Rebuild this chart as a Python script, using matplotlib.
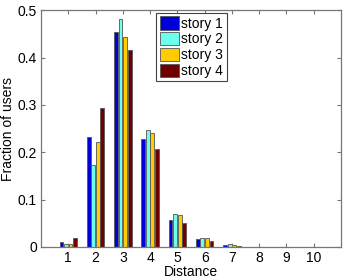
import matplotlib
matplotlib.use("Agg")
import matplotlib.pyplot as plt
import numpy as np

plt.rcParams["font.family"] = ["Liberation Sans", "DejaVu Sans"]

distance = np.arange(1, 11)
story1 = [0.011, 0.233, 0.454, 0.227, 0.058, 0.017, 0.004, 0.001, 0.0005, 0.0003]
story2 = [0.006, 0.174, 0.481, 0.247, 0.070, 0.018, 0.006, 0.001, 0.0005, 0.0003]
story3 = [0.007, 0.221, 0.444, 0.240, 0.068, 0.018, 0.004, 0.001, 0.0005, 0.0003]
story4 = [0.018, 0.294, 0.415, 0.207, 0.051, 0.013, 0.003, 0.001, 0.0005, 0.0003]
labels = ["story 1", "story 2", "story 3", "story 4"]
colors = ["#0000d8", "#6cfff0", "#ffcc00", "#700000"]

fig = plt.figure(figsize=(3.46, 2.79), dpi=100)
ax = fig.add_axes([0.1185, 0.1147, 0.867, 0.849])

series = [story1, story2, story3, story4]
offsets = [-0.25, -0.083, 0.083, 0.25]
for vals, off, c, lab in zip(series, offsets, colors, labels):
    ax.bar(distance + off, vals, width=0.14, color=c, edgecolor="#555555",
           linewidth=0.6, label=lab)

ax.set_xlim(0, 11)
ax.set_ylim(0, 0.5)
ax.set_xticks(distance)
ax.set_yticks([0, 0.1, 0.2, 0.3, 0.4, 0.5])
ax.set_yticklabels(["0", "0.1", "0.2", "0.3", "0.4", "0.5"])
ax.tick_params(direction="in", top=True, right=True, labelsize=10, length=3,
               color="#777777", width=0.8, pad=3)
for s in ax.spines.values():
    s.set_color("#777777")
    s.set_linewidth(0.9)
ax.set_xlabel("Distance", fontsize=10, labelpad=0)
ax.set_ylabel("Fraction of users", fontsize=10, labelpad=2)

leg = ax.legend(loc="upper left", bbox_to_anchor=(0.38, 0.995), fontsize=10,
                handlelength=1.4, handleheight=1.1, handletextpad=0.15,
                labelspacing=0.1, borderpad=0.25, borderaxespad=0.1,
                fancybox=False, framealpha=1)
leg.get_frame().set_edgecolor("#444444")
leg.get_frame().set_linewidth(0.8)

fig.savefig("out.png", dpi=100)
